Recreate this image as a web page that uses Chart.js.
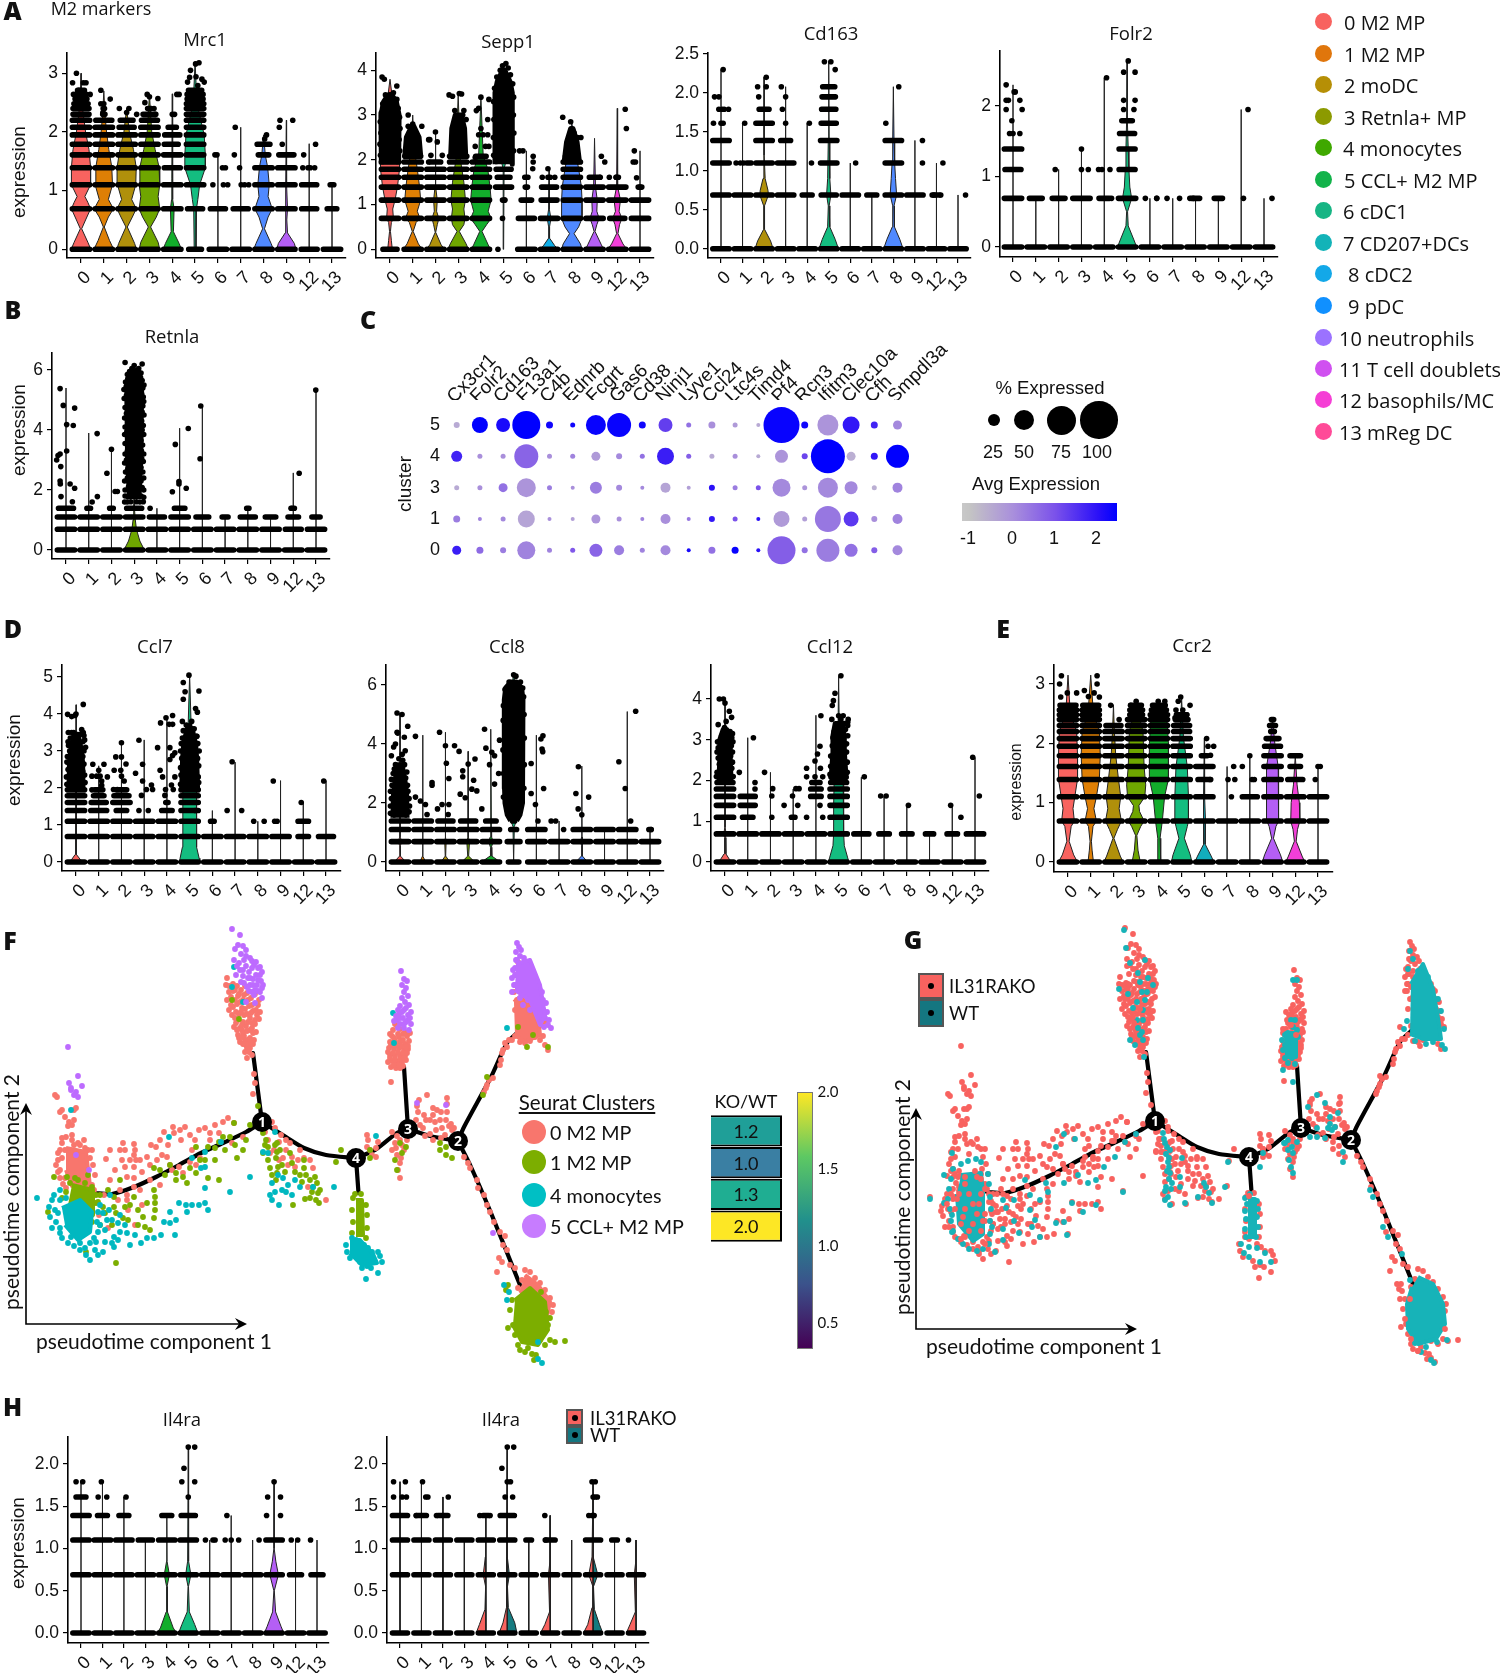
<!DOCTYPE html>
<html>
<head>
<meta charset="utf-8">
<title>M2 markers</title>
<script src="https://cdn.jsdelivr.net/npm/chart.js@4"></script>
<style>
  html, body { margin: 0; background: #fff; }
  #page { position: relative; width: 1500px; height: 1673px; overflow: hidden; }
  #page canvas { position: absolute; }
  .t { position: absolute; transform: translate(-50%, -50%); white-space: nowrap; color: #111; }
  .swatch { position: absolute; box-sizing: border-box; }
</style>
</head>
<body>
<div id="page"></div>
<script>
const clusterLabels = ['0', '1', '2', '3', '4', '5', '6', '7', '8', '9', '12', '13'];
const clusterColors = ['#f8635f', '#de7f05', '#b0900b', '#6fa600', '#12ad2b', '#14bd80', '#12adbd', '#10aee8', '#5089ff', '#b45ff5', '#f23fd8', '#ff5ca8'];
const logLevels = [0, .69, 1.1, 1.39, 1.61, 1.79, 1.95, 2.08, 2.2, 2.3, 2.4, 2.48, 2.56, 2.64, 2.71];

// violin profiles per cluster: [expression, half width], a lone number is just the whisker top
const mrc1Ticks = [0, 1, 2, 3];
const mrc1Violins = [
  [[0,.43],[.12,.3],[.35,.03],[.5,.2],[.69,.42],[.8,.3],[.9,.17],[1.1,.42],[1.4,.42],[1.7,.35],[2,.2],[2.3,.1],[2.6,.03],[3,0]],
  [[0,.43],[.15,.25],[.38,.02],[.55,.2],[.69,.42],[.85,.2],[1.1,.38],[1.4,.35],[1.7,.22],[2,.12],[2.3,.05],[2.7,0]],
  [[0,.43],[.1,.35],[.38,.03],[.55,.25],[.69,.42],[.85,.22],[1.1,.4],[1.39,.42],[1.7,.3],[2,.12],[2.4,0]],
  [[0,.45],[.12,.38],[.38,.05],[.55,.3],[.69,.45],[.9,.38],[1.1,.45],[1.4,.42],[1.7,.25],[2,.1],[2.3,.05],[2.65,0]],
  [[0,.4],[.1,.3],[.3,.05],[.69,.08],[.85,.03],[1.2,.02],[2.65,0]],
  [[0,.04],[.69,.06],[.85,.12],[1.1,.2],[1.39,.45],[1.61,.45],[1.95,.4],[2.2,.25],[2.5,.08],[3.2,0]],
  1.61, 2.08,
  [[0,.43],[.1,.33],[.35,.04],[.55,.2],[.69,.38],[.9,.2],[1.1,.25],[1.4,.18],[1.6,.08],[1.95,0]],
  [[0,.42],[.1,.35],[.28,.05],[.5,.02],[.69,.05],[1.1,.02],[2.2,0]],
  1.8, 1.1,
];
// half widths of the dot rows, aligned with logLevels
const mrc1Strips = [
  [.45,.45,.45,.45,.45,.45,.45,.45,.45,.42,.42,.38,.33,.3,.22],
  [.45,.45,.45,.45,.45,.45,.45,.45,.42,.12,.1],
  [.45,.45,.45,.45,.45,.45,.45,.4,.35],
  [.45,.45,.45,.45,.45,.45,.45,.45,.42,.35,.15],
  [.45,.45,.45,.42,.45,.33,.4,.25],
  [.35,.4,.45,.45,.45,.45,.45,.45,.45,.45,.45,.45,.42,.42,.36],
  [.45,.4],
  [.45,.4],
  [.45,.45,.45,.45,.3,.35],
  [.45,.45,.45,.45,.4],
  [.42,.4,.4,.12],
  [.45,.28,.15],
];
const mrc1Dots = [-.2,3,-.37,2.84,.22,2.84,.1,2.84,-.1,2.71,-.33,2.64,-.15,2.64,.22,2.64,.4,2.64,.2,2.56,
  .87,2.71,1.28,2.56,1,2.48,.96,2.33,.87,2.48,1.68,2.4,2.1,2.4,2,2.33,2.44,2.3,3,2.6,2.9,2.64,3.37,2.57,2.8,2.5,3.2,2.4,3.25,2.3,
  4,2.3,4.1,2.3,4.3,2.64,4.2,2.64,3.65,1.79,5.17,3.18,5.02,3.16,4.8,3.05,4.76,2.93,4.67,2.85,5.04,2.94,5.3,2.9,5.4,2.85,5.12,2.79,
  5.78,1.1,5.87,1.61,5.96,1.61,6.33,1.39,6.2,1.39,6.43,1.1,6.24,1.1,6.76,2.08,6.72,1.61,6.95,1.39,7.02,1.1,7.17,1.1,7.35,1.1,
  8.13,1.95,8.05,1.88,8.72,2.2,8.69,2.08,8.82,1.79,9.28,2.2,9.76,1.61,10.28,1.79,10.24,1.39,9.72,1.39];

const sepp1Ticks = [0, 1, 2, 3, 4];
const sepp1Violins = [
  [[0,.1],[.2,.06],[.4,.02],[.6,.06],[.69,.15],[.9,.12],[1.1,.22],[1.4,.33],[1.8,.42],[2.1,.42],[3.8,0]],
  [[0,.42],[.12,.25],[.4,.02],[.6,.15],[.69,.32],[.85,.2],[1.1,.35],[1.4,.3],[1.8,.2],[2.2,.08],[3,0]],
  [[0,.4],[.1,.25],[.38,.01],[.55,.08],[.69,.15],[.85,.05],[1.1,.08],[1.4,.02],[2.6,0]],
  [[0,.45],[.12,.35],[.4,.05],[.55,.25],[.69,.3],[.9,.25],[1.1,.32],[1.5,.25],[2,.1],[3.45,0]],
  [[0,.42],[.1,.32],[.4,.05],[.55,.25],[.69,.45],[.85,.32],[1.1,.45],[1.4,.4],[1.8,.3],[2.1,.1],[3.4,0]],
  [[0,0],[1.8,.02],[2,.12],[2.3,.4],[3.2,.3],[3.7,.1],[4.1,0]],
  2.2,
  [[0,.4],[.08,.25],[.25,.02],[.5,.02],[.69,.08],[.9,.02],[1.8,0]],
  [[0,.45],[.12,.38],[.35,.1],[.5,.3],[.69,.45],[1.1,.45],[1.4,.42],[1.8,.3],[2.3,.12],[2.85,0]],
  [[0,.4],[.1,.3],[.4,.02],[.55,.1],[.69,.2],[.85,.1],[1.1,.12],[1.4,.04],[2.48,0]],
  [[0,.42],[.12,.25],[.35,.03],[.55,.1],[.69,.2],[.85,.08],[1.1,.14],[1.4,.03],[3.15,0]],
  2.2,
];
const sepp1Strips = [
  [.38,.45,.45,.45,.45,.45,.45],
  [.45,.45,.45,.45,.45,.45,.45,.42],
  [.45,.45,.45,.45,.45,.45,.3],
  [.45,.45,.45,.45,.45,.45,.45,.45],
  [.45,.45,.45,.45,.45,.45,.45,.3],
  [0,0,.12,.42,.35,.4],
  [.45,.42,.3,.12,.14],
  [.45,.45,.42,.4,.12],
  [.45,.45,.45,.45,.45,.45,.45,.35,.3],
  [.45,.45,.45,.45,.3],
  [.45,.4,.45,.45,.12],
  [.45,.45,.45,.15],
];
const sepp1Clouds = [
  [[1.9,.45],[3,.47],[3.3,.35],[3.45,.15]], [[2.08,.42],[2.5,.35],[2.75,.12]], null, [[2.1,.4],[2.7,.35],[3,.2]], null,
  [[1.9,.45],[3.5,.45],[3.75,.35],[4,.12]], null, null, [[1.9,.42],[2.4,.3],[2.7,.12]],
];
const sepp1Dots = [-.35,3.85,-.25,3.8,.3,3.65,0,3.45,.8,3,1,2.8,1.4,2.75,.8,2.75,1.7,2.45,2,2.62,2.08,2.4,1.75,2.45,2.3,2.1,1.8,2.1,1.7,1.95,
  2.6,3.45,2.75,3.42,3.05,3.48,3.25,3.1,3.15,3.47,2.85,3.1,3.2,3,3.35,2.9,3.8,3.1,3.9,3.15,4.35,3.35,4,3.4,4.3,2.9,3.9,2.56,4.1,2.56,4.3,2.56,4,2.7,
  3.75,2.3,4.2,2.3,4.35,2.3,3.75,2.05,4.75,0,4.95,.69,5.05,1.1,5.7,2.2,5.85,2.2,6.3,2.08,6.3,1.95,6.28,1.8,6.95,1.8,6.7,1.61,7.25,1.61,
  7.6,2.95,7.95,2.85,8.1,2.6,8.25,2.5,8.4,2.5,9.3,2.08,9.45,1.95,9.65,1.61,9.25,1.61,10.35,3.13,10.4,2.7,9.95,1.61,10.75,2.2,10.7,1.95,10.8,1.95,10.85,1.6,11,1.39,
  -.42,2.1,.43,2.2,-.44,2.35,.4,2.45,-.4,2.6,.44,2.7,-.43,2.85,.42,2.95,-.38,3.05,.36,3.15,-.32,3.25,.3,3.35,-.2,3.45,.15,3.5,
  4.56,2.1,5.44,2.2,4.55,2.5,5.45,2.6,4.57,2.9,5.43,3,4.56,3.3,5.44,3.4,4.6,3.6,5.4,3.7,4.7,3.85,5.3,3.9,4.85,4,5.2,4.05,5.1,4.15,4.95,4.1];

const cd163Ticks = [0, .5, 1, 1.5, 2, 2.5];
const cd163Violins = [2.3, 1.61,
  [[0,.42],[.1,.3],[.25,.02],[.55,.02],[.69,.2],[.75,.18],[.9,.05],[1.2,.01],[2.2,0]],
  2.08, 1.61,
  [[0,.45],[.12,.3],[.28,.05],[.55,.02],[.69,.1],[.9,.05],[1.4,.02],[2.4,0]],
  1.1, .69,
  [[0,.45],[.12,.3],[.28,.05],[.55,.03],[.69,.15],[.9,.1],[1.1,.06],[1.4,.03],[2.08,0]],
  1.39, 1.1, .69,
];
const cd163Strips = [
  [.45,.45,.45,.45], [.45,.45], [.45,.45,.45,.45,.45,.3], [.45,.45,.45,.3], [.45,.3], [.45,.42,.45,.45,.42,.4,.38,.35],
  [.45,.45], [.45,.3], [.45,.45,.45,.45], [.45,.45], [.45,.2], [.45],
];
const cd163Dots = [-.35,1.61,0,1.61,.1,1.61,-.1,1.79,.05,1.79,.15,1.79,.35,1.79,-.3,1.95,-.1,1.95,.1,2.3,.7,1.1,.9,1.1,1.05,1.1,1.2,1.1,1.3,1.1,1.4,1.1,1.1,1.61,
  1.75,1.95,1.7,2.08,2.1,2.08,2.1,2.2,3,1.61,2.85,1.79,3,1.95,2.8,2.08,4.2,1.1,4.1,1.61,5.3,2.3,4.8,2.4,5.1,2.4,6.25,1.1,7.65,1.61,8.25,2.08,
  9.35,1.39,9.35,1.1,10.3,1.1,9.8,.69,9.9,.69,10.2,.69,11.35,.69];

const folr2Ticks = [0, 1, 2];
const folr2Violins = [2.3, .69, 1.1, 1.39, 2.4,
  [[0,.42],[.1,.3],[.3,.05],[.5,.02],[.69,.2],[.85,.12],[1.1,.08],[1.4,.05],[1.8,.02],[2.65,0]],
  .69, .69, .69, .69, 1.95, .69,
];
const folr2Strips = [
  [.45,.45,.42,.45], [.45,.35], [.45,.35], [.45,.45], [.45,.3], [.45,.45,.42,.42,.4,.3],
  [.45], [.45], [.45,.25], [.45,.25], [.45], [.45],
];
const folr2Dots = [-.15,1.61,0,1.61,.3,1.61,-.05,1.79,-.3,1.95,.4,1.95,-.3,2.08,-.2,2.08,.3,2.08,.05,2.2,.1,2.2,-.3,2.3,1.85,1.1,3,1.1,3.3,1.1,3,1.39,
  3.75,1.1,3.9,1.1,4.25,1.1,4.1,2.4,4.32,.69,4.85,1.95,5.3,1.95,4.85,2.08,5.35,2.08,4.85,2.48,5.35,2.48,5.05,2.64,5.8,.69,6.3,.69,6.75,.69,6.3,.69,7.3,.69,7.75,.69,
  7.9,.69,10.3,1.95,10.1,.69,11.35,.69];

const retnlaTicks = [0, 2, 4, 6];
const retnlaViolins = [5.4, 3.9, 3.4,
  [[0,.45],[.3,.25],[.69,.1],[1,.05],[1.39,.02],[6.2,0]],
  1.39, 4.06, 4.8, 1.1, 1.39, 1.1, 2.57, 5.35,
];
const retnlaStrips = [
  [.45,.45,.45,.4], [.45,.45,.45,.15], [.45,.45,.45,.15], [.45,.45,.45,.4], [.45,.45,.4], [.45,.45,.45,.3],
  [.45,.45,.35], [.45,.45,.2], [.45,.45,.4,.12], [.45,.45,.3], [.45,.42,.3,.12], [.45,.45,.25],
];
const retnlaClouds = [null, null, null, [[1.7,.28],[3,.36],[5.5,.4],[5.95,.28]]];
const retnlaDots = [-.41,3,-.26,3.2,-.12,4.82,.03,4.18,.32,4.15,.38,4.73,-.26,5.38,.03,3.3,-.23,2.78,-.26,2.3,-.25,2.2,-.22,1.78,.18,2.2,.38,2.06,.28,1.61,-.35,3.15,
  1.37,3.88,1.15,1.6,1.38,1.78,2,3.36,1.8,2.56,2.16,1.95,2.26,1.95,3.7,1.39,4.81,3.52,5.38,4.05,4.68,1.94,4.97,2.28,4.97,2.2,5.29,2.06,
  5.93,4.8,5.9,3.04,10.26,2.56,9.9,1.39,10.99,5.33,2.6,6.25,3.35,6.2,
  2.58,1.6,2.7,1.6,2.85,1.61,3.1,1.61,3.25,1.6,3.4,1.61,2.6,1.8,2.72,1.78,3.3,1.8,3.42,1.76,2.6,2,2.75,2.1,3.35,2.08,3.42,2,2.58,2.3,2.7,2.4,3.3,2.3,3.42,2.4,2.62,2.6,2.72,2.7,3.38,2.6,3.3,2.75,2.58,2.9,2.66,3,3.4,2.95,3.33,3.05,2.6,3.2,2.7,3.3,3.42,3.2,3.32,3.3,2.6,3.55,2.72,3.6,3.37,3.5,3.3,3.65,2.58,3.85,2.68,3.95,3.42,3.85,3.35,4,2.6,4.1,2.72,4.2,3.4,4.15,3.33,4.3,2.58,4.4,2.66,4.55,3.43,4.5,3.35,4.6,2.6,4.75,2.72,4.85,3.38,4.8,3.42,4.95,2.56,5.05,2.66,5.15,3.4,5.1,3.33,5.2,2.55,5.35,2.65,5.45,3.38,5.4,3.43,5.5,2.62,5.6,2.72,5.7,3.35,5.65,3.28,5.75,2.7,5.85,2.8,5.95,3.3,5.9,2.9,6.05,3.2,6.05,3,6.15,3.1,5.98,2.85,5.85];

const ccl7Ticks = [0, 1, 2, 3, 4, 5];
const ccl7Violins = [
  [[0,.35],[.06,.2],[.2,.04],[.69,.02],[4.25,0]],
  2.6, 3.2, 3.3, 3.9,
  [[0,.45],[.1,.42],[.4,.32],[.7,.3],[1.4,.3],[1.9,.3],[2.4,.1],[3,.1],[5.05,0]],
  1.39, 2.7, 1.1, 2.2, 1.61, 2.2,
];
const ccl7Strips = [
  [.45,.45,.45,.45,.45,.45,.45], [.45,.45,.45,.42,.4,.3,.25], [.45,.45,.45,.3,.45,.4,.3], [.45,.45,.45], [.45,.45,.45,.3,.12],
  [.45,.45,.45,.45,.45,.45,.45], [.45,.45,.15], [.45,.45], [.45,.45], [.45,.45], [.45,.3,.3], [.45,.4],
];
const ccl7Clouds = [[[1.95,.38],[2.7,.36],[3.1,.28],[3.45,.16]], null, null, null, null, [[1.95,.42],[2.8,.38],[3.2,.33],[3.6,.18]]];
const ccl7Dots = [-.37,3.99,-.04,3.96,0,4,.32,4.26,-.19,3.93,-.34,3.5,-.19,3.5,.25,3.58,.32,3.5,
  .74,2.64,1.23,2.64,1,2.48,.91,2.32,1.06,2.32,1.38,2.3,1.13,2.19,1.13,2.07,.7,2.32,.7,1.95,
  1.75,2.84,2,3.22,2,2.84,1.68,2.48,1.97,2.48,2.2,2.65,2,2.32,2.12,2.19,1.65,1.96,1.82,1.96,
  2.77,3.29,2.93,2.64,2.62,2.4,2.93,2.19,3.32,2.08,3.1,1.96,3.37,1.96,2.88,1.8,2.77,1.39,3.18,1.39,
  3.96,3.9,4.25,3.96,3.72,3.76,4.25,3.72,4.1,3.72,3.59,3.09,4.13,3.09,4.35,2.95,4.25,2.88,4.13,2.77,3.7,2.48,3.81,2.3,4.35,2.3,4.2,2.08,4.28,1.96,3.94,1.96,3.91,1.8,
  4.72,4.85,4.97,5.05,4.8,4.6,5.41,4.62,4.72,4.4,5.26,4.15,5.34,4.05,4.68,3.8,5.09,3.8,5,3.68,5.3,3.4,
  5.25,1.39,6.87,2.71,6.65,1.39,7.29,1.39,7.82,1.1,8.28,1.1,8.68,2.19,8.74,1.1,8.85,1.1,9.91,1.61,10.9,2.19,
  -.4,2.1,.4,2.15,-.42,2.3,.38,2.35,-.35,2.5,.3,2.45,-.4,2.7,.35,2.65,-.38,2.85,.3,2.85,-.28,3,.35,3,-.33,3.15,.42,3.1,-.35,3.25,.3,3.25,-.25,3.35,.38,3.3,.35,3.42,.2,3.45,-.1,3.5,
  4.6,2.1,5.4,2.15,4.62,2.35,5.38,2.3,4.6,2.55,5.4,2.6,4.65,2.8,5.35,2.8,4.6,3,5.42,3,4.63,3.2,5.36,3.2,4.68,3.35,5.32,3.4,4.72,3.55,5.2,3.6,4.85,3.7,5.1,3.6];

const ccl8Ticks = [0, 2, 4, 6];
const ccl8Violins = [
  [[0,.35],[.05,.2],[.2,.02],[.55,.01],[.69,.08],[.85,.01],[5.05,0]],
  [[0,.22],[.05,.1],[.2,.01],[4.3,0]],
  [[0,.3],[.05,.15],[.2,.01],[.69,.03],[.85,0],[4.4,0]],
  [[0,.38],[.05,.22],[.2,.02],[.69,.06],[.85,.01],[3.75,0]],
  [[0,.45],[.06,.3],[.2,.04],[.5,.02],[.69,.1],[.85,.03],[1.1,.02],[4.5,0]],
  [[0,0],[1.2,.03],[1.6,.2],[2,.3],[6.35,.02]],
  4.3, 1.39,
  [[0,.35],[.05,.2],[.2,.02],[.55,.01],[.69,.05],[.85,.01],[3.25,0]],
  1.1, 5.1, 1.1,
];
const ccl8Strips = [
  [.45,.45,.45,.45], [.45,.45,.45,.45], [.45,.45,.45,.4], [.45,.45,.45,.4], [.45,.45,.45,.3],
  [.3,.35,.2,.12], [.45,.45,.45], [.45,.45], [.45,.45,.45], [.45,.45,.45], [.45,.45,.45], [.45,.45,.12],
];
const ccl8Clouds = [[[1.5,.38],[2.3,.36],[2.8,.28],[3.3,.16]], null, null, null, null,
  [[1.4,.2],[1.6,.35],[2,.45],[2.5,.47],[5.5,.48],[5.9,.42],[6.1,.2]]];
const ccl8Dots = [-.13,5.05,.09,5,.34,4.6,-.13,4.4,-.38,3.6,-.1,4.37,.19,4.23,.23,3.77,-.2,4,-.28,3.9,
  .68,4.26,.68,2.2,.9,2.07,1.12,1.95,1.19,1.61,1.41,2.69,1.41,2.6,1.65,1.8,1.74,4.4,2,3.94,2.04,3.35,2.15,2.83,2.4,3.94,1.85,1.95,2.15,1.95,2.12,1.61,
  2.6,3.75,3,3.32,3.3,3.49,2.76,3.09,2.76,2.89,3.24,2.77,3.16,2.47,3.38,2.41,2.65,2.3,2.87,2.18,3.6,1.8,3.72,4.5,3.78,3.86,4.04,3.72,4.16,3.6,3.94,3.3,4.16,2.64,4.34,3,4.38,4.13,
  5.77,3.34,5.77,2.32,6.29,4.28,6.2,4.17,6.25,3.83,6.28,3.74,6.32,2.49,5.96,1.95,6.07,1.39,
  6.65,1.39,6.85,1.39,7.2,1.1,7.85,3.23,7.74,2.32,8.3,2.2,7.84,1.8,8,1.6,10.37,5.11,9.63,3.4,9.91,2.49,10.15,1.39,11.05,1.1,
  -.42,1.65,.4,1.7,-.42,1.9,.42,1.9,-.38,2.15,.4,2.15,-.42,2.4,.35,2.4,-.35,2.6,.33,2.6,-.38,2.8,.25,2.85,-.3,3,.3,3.05,-.2,3.3,.2,3.3,-.25,3.15,.12,3.45,-.05,3.5,.1,3.65,
  4.55,2.2,5.45,2.5,4.55,3,5.47,3.3,4.53,3.8,5.47,4.2,4.54,4.8,5.46,5,4.55,5.3,5.44,5.6,4.62,5.85,5.4,5.9,5.3,6.1,4.8,6.1,5,6.35,5.1,6.3];

const ccl12Ticks = [0, 1, 2, 3, 4];
const ccl12Violins = [
  [[0,.35],[.06,.2],[.2,.04],[.6,.02],[.69,.05],[.85,.01],[4,0]],
  3.05, 2.2, 1.79, 3.6,
  [[0,.45],[.1,.4],[.4,.25],[.7,.22],[1.4,.22],[1.9,.2],[2.2,.05],[4.55,0]],
  2.08, 1.61, 1.39, .69, 1.39, 2.56,
];
const ccl12Strips = [
  [.45,.45,.45,.45,.45,.45,.42], [.45,.45,.3,.4,.4], [.45,.45], [.45,.45,.15], [.45,.45,0,0,.3,.3,.25],
  [.45,.45,.45,.45,.45,.45,.42,.4], [.45,.4], [.45,.3], [.45,.3], [.45,.25], [.45,.3], [.45,.45],
];
const ccl12Clouds = [[[1.95,.34],[2.5,.3],[3,.3],[3.25,.15]], null, null, null, null, [[2.05,.4],[2.7,.32],[3.1,.32],[3.4,.22]]];
const ccl12Dots = [-.25,4,-.07,4,0,3.9,.19,3.7,.29,3.55,-.3,3.37,.63,2.2,1.25,3.05,1.32,1.95,1.32,1.79,1.74,2.2,2.1,1.8,2.06,1.62,2.06,1.1,
  2.6,1.39,2.97,1.62,3.12,1.8,3.26,1.8,3.2,1.39,4.22,3.59,4.18,2.84,4.07,2.65,3.96,2.48,3.59,2.3,4.2,2.3,3.59,2.09,3.96,2.09,3.96,1.95,4.3,2.09,3.59,1.1,4.3,1.1,4.18,1.39,
  5.1,4.57,4.84,4.14,4.77,3.96,4.72,3.84,5,3.59,5.2,3.59,4.7,3.5,5.42,3.5,5.4,3.43,6.13,2.09,6.85,1.62,7.09,1.62,8.07,1.39,9.93,1.39,10.38,1.1,10.9,2.57,11.19,1.62,
  -.38,2.1,.36,2.1,-.35,2.2,.3,2.3,-.25,2.4,.33,2.45,-.3,2.55,.25,2.6,-.35,2.7,.33,2.7,-.3,2.8,.28,2.85,-.2,2.9,.35,2.95,-.33,2.95,.3,3.05,-.15,3.1,.33,3.15,.22,3.2,-.02,3.3,.05,3.45,
  4.62,2.15,5.38,2.2,4.65,2.35,5.38,2.45,4.65,2.6,5.35,2.7,4.72,2.85,5.35,2.9,4.75,3.05,5.4,3.1,4.8,3.2,5.3,3.25,4.9,3.35,5.25,3.4,5.4,3.35,5.1,3.5];

const ccr2Ticks = [0, 1, 2, 3];
const ccr2Violins = [
  [[0,.42],[.12,.25],[.35,.05],[.6,.14],[.69,.28],[.9,.22],[1.1,.3],[1.4,.42],[1.8,.42],[2.2,.38],[2.5,.1],[3.15,0]],
  [[0,.12],[.2,.06],[.35,.03],[.6,.1],[.69,.25],[.9,.14],[1.1,.25],[1.4,.38],[1.8,.42],[2.2,.38],[2.5,.12],[3.15,0]],
  [[0,.42],[.1,.3],[.4,.02],[.55,.18],[.69,.35],[.9,.25],[1.1,.32],[1.4,.22],[1.8,.1],[2.2,.04],[2.65,0]],
  [[0,.18],[.2,.08],[.45,.03],[.6,.2],[.69,.35],[.85,.15],[.95,.12],[1.1,.38],[1.3,.42],[1.6,.35],[2.2,.3],[2.65,0]],
  [[0,.08],[.4,.05],[.69,.15],[1.1,.25],[1.4,.42],[2,.42],[2.4,.35],[2.7,0]],
  [[0,.45],[.12,.38],[.4,.12],[.6,.25],[.69,.3],[1.1,.3],[1.6,.25],[2.1,.08],[2.75,0]],
  [[0,.42],[.1,.3],[.3,.03],[.6,.04],[.69,.05],[1.1,.02],[2.08,0]],
  1.61, 1.79,
  [[0,.45],[.12,.35],[.4,.04],[.6,.15],[.69,.25],[1.1,.28],[1.6,.25],[2,.1],[2.4,0]],
  [[0,.42],[.1,.3],[.35,.04],[.55,.1],[.69,.2],[1,.18],[1.3,.08],[1.79,0]],
  1.61,
];
const ccr2Strips = [
  [.45,.45,.45,.45,.45,.45,.45,.45,.45,.45,.45,.45,.45,.42],
  [.45,.45,.45,.45,.45,.45,.45,.45,.45,.45,.45,.45,.45,.42],
  [.45,.45,.45,.45,.45,.45,.45,.45,.45,.4],
  [.45,.45,.45,.45,.45,.45,.45,.45,.45,.45,.45,.35,.35,.3],
  [.45,.45,.45,.45,.45,.45,.45,.45,.45,.45,.45,.45,.4,.35],
  [.45,.45,.45,.45,.45,.45,.45,.45,.42,.42,.35,.3],
  [.45,.45,.45,.35,.45,.2],
  [.45,.45],
  [.45,.45,.4],
  [.45,.45,.45,.45,.45,.45,.42,.35,.15,.2,.12],
  [.45,.45,.45,.4,.3,.3],
  [.45,.45,.45],
];
const ccr2Dots = [-.29,3.14,-.37,3,-.03,2.85,.38,2.85,-.32,2.78,.72,2.89,1.28,3.14,1.28,3,1.15,2.85,1.38,2.78,.9,2.79,1.88,2.64,2.25,2.4,
  2.75,2.64,3.05,2.64,3,2.71,3.97,2.71,4.26,2.71,4.96,2.78,4.85,2.71,5.37,2.64,4.71,2.43,5.22,2.48,4.75,2.56,5.05,2.56,
  6.1,2.08,6.16,1.95,6.41,1.95,6.27,1.8,6.25,1.39,7.04,1.39,7.34,1.39,7.29,1.61,7.67,1.61,7.19,1.1,8,1.79,8.1,1.39,8.2,1.39,8.75,1.61,
  11,1.61,11.1,1.61,10.88,1.39];

const il4raTicks = [0, .5, 1, 1.5, 2];
const il4raViolins = [1.79, 1.79, 1.61, 1.1,
  [[0,.45],[.06,.3],[.25,.03],[.55,.01],[.69,.12],[.85,.01],[1.39,0]],
  [[0,.45],[.1,.3],[.25,.05],[.55,.01],[.69,.12],[.85,.03],[2.2,0]],
  1.1, 1.39, 1.1,
  [[0,.45],[.08,.32],[.25,.07],[.5,.01],[.69,.2],[.85,.08],[1,.01],[1.8,0]],
  1.1, 1.1,
];
const il4raStrips = [
  [.45,.45,.45,.45,.3], [.45,.45,.45,.3], [.45,.45,.45,.3], [.45,.45,.4], [.45,.45,.45,.3], [.45,.45,.45,.4],
  [.45,.45], [.45,.45], [.45,.45], [.45,.45,.45], [.45,.35], [.45,.35],
];
const il4raDots = [-.23,1.79,.08,1.79,.95,1.79,.8,1.61,1.2,1.61,2.1,1.61,5,1.61,4.7,1.79,5.3,1.79,4.8,1.95,5,2.2,5.3,2.2,
  5.8,1.1,6.15,1.1,6.25,1.1,6.72,1.1,7,1.1,7.35,1.1,6.8,1.39,8.3,1.1,8.65,1.39,9.3,1.39,8.7,1.61,9.3,1.61,9,1.79,9.8,1.1,10.1,1.1,10.7,1.1];

const il4raSplitKo = [1.79, 1.79, 1.61, 1.1,
  [[0,.45],[.1,.3],[.28,.04],[.55,.01],[.69,.12],[.9,.02],[1.39,0]],
  [[0,.38],[.12,.2],[.3,.04],[.69,.05],[.9,.02],[2.2,0]],
  1.1,
  [[0,.45],[.1,.25],[.25,.03],[.69,.08],[.85,.01],[1.39,0]],
  1.1,
  [[0,.45],[.1,.25],[.3,.05],[.55,.01],[.69,.2],[.9,.05],[1.8,0]],
  1.1,
  [[0,.45],[.1,.28],[.25,.03],[.69,.08],[.85,.01],[1.1,0]],
];
const il4raSplitWt = [1.79, 1.79, 1.61, 1.1, 1.39,
  [[0,.45],[.12,.35],[.3,.05],[.55,.01],[.69,.1],[.9,.02],[2.2,0]],
  1.1, 1.39, 1.1,
  [[0,.45],[.1,.3],[.28,.06],[.55,.02],[.69,.22],[.9,.04],[1.8,0]],
  1.1, 1.1,
];
const il4raSplitStrips = [
  [.42,.42,.42,.42], [.42,.42,.42,.3], [.42,.42,.42,.3], [.42,.42,.42], [.42,.42,.42,.2], [.42,.42,.42,.4],
  [.42,.42,.2], [.42,.42,.3], [.42,.42], [.42,.42,.42,.12], [.42,.42,.2], [.42,.42],
];
const il4raSplitDots = [-.3,1.61,.1,1.61,.3,1.61,-.3,1.79,.25,1.79,1.05,1.79,.75,1.39,1.2,1.61,1.3,1.61,2.25,1.61,1.7,1.39,3.72,1.39,4.2,1.39,
  4.75,1.95,5,2.2,5.3,2.2,5,1.79,5.15,1.79,4.9,1.61,5.25,1.61,6.75,1.39,6.8,1.1,8.8,1.39,9,1.39,8.95,1.79,9,1.61,9.1,1.61,9.2,1.61,9.1,1.79,10.65,1.1];

// dot plot: % expressed and average expression, one row per cluster, one value per gene
const dotGenes = ['Cx3cr1', 'Folr2', 'Cd163', 'F13a1', 'C4b', 'Ednrb', 'Fcgrt', 'Gas6', 'Cd38', 'Ninj1', 'Lyve1', 'Ccl24', 'Ltc4s', 'Timd4', 'Pf4', 'Rcn3', 'Ifitm3', 'Clec10a', 'Cfh', 'Smpdl3a'];
const dotClusters = ['0', '1', '3', '4', '5'];
const pctCluster0 = [15,9,6,42,3,3,27,18,3,18,0,9,9,0,72,6,57,27,6,18];
const pctCluster1 = [9,0,3,39,0,0,15,3,0,18,0,6,3,0,36,3,66,33,6,18];
const pctCluster3 = [3,3,15,45,3,0,24,6,0,18,0,6,3,3,42,3,48,27,3,18];
const pctCluster4 = [21,3,3,60,3,3,15,6,3,39,3,3,3,0,27,6,90,15,9,57];
const pctCluster5 = [6,36,30,72,9,3,48,60,9,30,3,9,3,0,96,9,51,39,9,15];
const avgCluster0 = [1.8,.6,.3,.2,.2,.9,.7,.3,.2,.1,2.2,.5,2.4,2,.8,.5,.3,.5,.8,.1];
const avgCluster1 = [.3,.2,.1,-.4,0,-.3,-.1,0,.2,0,.4,1.9,1,2,-.2,-.3,.4,1.4,0,.2];
const avgCluster3 = [-.5,0,.5,-.1,.3,0,.3,.1,.1,-.4,-.3,2,.3,1,.1,-.1,.1,.1,-.6,.2];
const avgCluster4 = [1.7,0,0,.7,0,.2,-.2,.1,.5,1.8,.8,-.5,0,-.5,-.1,1.2,2.5,-.6,1.9,2.5];
const avgCluster5 = [-.5,2.5,2.2,2.5,2.3,2.3,2.4,2.4,2.3,1.3,.5,0,-.2,-.5,2.4,2.3,-.1,1.9,1.7,.1];
const pctByRow = [pctCluster0, pctCluster1, pctCluster3, pctCluster4, pctCluster5];
const avgByRow = [avgCluster0, avgCluster1, avgCluster3, avgCluster4, avgCluster5];

// KO/WT table
const koWtValues = [1.2, 1.0, 1.3, 2.0];
const koWtColors = ['#1f9f98', '#3a7fa3', '#1fae92', '#fde725'];

// trajectory, x then y along each component (no numeric ticks in the source)
const treeBranches = [
  [[262,1122],[253,1053]],
  [[94,1193],[112,1194],[134,1187],[156,1177],[179,1165],[201,1153],[223,1143],[246,1132],[262,1122]],
  [[262,1122],[286,1137],[304,1148],[326,1155],[356,1158]],
  [[356,1158],[358.5,1193]],
  [[356,1158],[375,1150],[397,1133],[408,1129]],
  [[408,1129],[404,1067]],
  [[408,1129],[430,1136],[458,1141]],
  [[458,1141],[464,1127],[491,1077],[507,1043],[518,1032]],
  [[458,1141],[471,1167],[491,1213],[520,1285]],
];
const treeNodes = [[262,1122,'1'],[458,1141,'2'],[408,1129,'3'],[356,1158,'4']];

const cellsCluster0 = [227,978,226,985,229,992,227,1000,231,1005,235,990,238,996,233,984,240,1002,244,995,248,1000,252,1005,256,1010,260,1012,242,1008,236,1012,232,1015,238,1020,244,1015,250,1018,255,1020,258,1005,234,1027,240,1028,246,1026,252,1028,238,1035,244,1036,250,1038,256,1032,240,1042,246,1045,250,1048,245,1052,247,1058,250,1030,243,1022,254,1040,252,1055,248,1040,242,1030,254,1074,255,1083,253,1094,
  229,986,233,991,237,986,241,990,245,986,231,997,235,1000,239,994,243,1000,247,993,251,998,255,994,259,1000,229,1010,233,1007,237,1004,241,1012,245,1009,249,1006,253,1011,257,1015,235,1018,239,1014,247,1014,251,1013,255,1024,259,1019,236,1023,242,1025,248,1022,252,1023,237,1030,243,1033,247,1031,253,1033,239,1038,245,1040,249,1044,253,1044,242,1037,247,1048,243,1044,251,1042,249,1052,
  397,1026,393,1030,392,1036,398,1034,403,1034,407,1036,410,1033,390,1042,395,1041,400,1042,405,1044,409,1041,389,1048,394,1049,399,1048,404,1050,408,1049,390,1055,395,1056,400,1055,405,1056,392,1061,397,1062,402,1062,406,1060,391,1067,396,1068,400,1068,403,1066,391,1082,
  395,1024,400,1029,405,1032,390,1034,394,1038,399,1037,403,1040,408,1046,391,1045,396,1045,401,1046,406,1047,388,1052,393,1053,398,1052,403,1053,407,1053,390,1058,395,1060,400,1059,404,1058,394,1065,399,1065,388,1062,
  509,1040,505,1043,503,1050,507,1047,512,1040,515,1036,520,1042,525,1043,530,1041,535,1037,540,1040,545,1045,548,1050,543,1036,538,1030,541,1025,545,1022,515,1010,517,1000,514,992,518,988,516,975,518,962,
  502,1053,501,1060,500,1065,489,1080,493,1078,487,1085,484,1092,486,1088,
  427,1095,419,1100,417,1106,418,1112,424,1115,426,1120,420,1125,416,1120,423,1128,430,1120,433,1108,433,1115,435,1122,437,1110,441,1112,440,1120,442,1128,447,1098,447,1104,447,1112,446,1120,449,1126,451,1124,454,1128,436,1130,430,1134,425,1136,433,1140,441,1138,445,1135,452,1130,
  392,1132,397,1136,400,1140,402,1145,396,1148,392,1150,397,1155,401,1158,400,1163,398,1170,400,1178,395,1143,404,1150,407,1140,367,1135,368,1140,367,1147,370,1150,372,1155,376,1148,378,1142,376,1157,
  464,1157,468,1163,470,1168,477,1180,478,1188,484,1195,487,1205,490,1212,494,1222,500,1232,505,1236,503,1245,507,1250,499,1258,502,1262,510,1265,515,1268,497,1272,
  525,1270,530,1272,535,1278,540,1283,545,1290,550,1298,553,1305,552,1312,548,1318,522,1280,518,1288,527,1285,533,1290,538,1296,545,1303,540,1310,
  55,1095,57,1097,62,1110,60,1112,65,1117,74,1110,76,1108,74,1120,69,1122,72,1125,68,1126,72,1135,66,1137,62,1138,72,1140,60,1150,58,1153,65,1150,74,1145,80,1145,85,1148,88,1150,62,1158,56,1165,58,1172,94,1190,92,1185,60,1170,65,1178,66,1188,
  62,1143,58,1160,60,1178,63,1184,95,1175,93,1165,90,1158,92,1150,78,1143,84,1140,
  106,1159,123,1143,134,1144,135,1150,134,1155,136,1160,134,1167,125,1167,127,1177,134,1178,147,1157,151,1145,156,1147,164,1132,173,1127,185,1127,199,1130,162,1155,167,1157,174,1133,181,1140,192,1150,210,1133,219,1133,228,1118,234,1123,223,1122,210,1140,196,1165,179,1167,172,1170,183,1173,127,1195,127,1200,134,1187,232,1143,243,1137,
  110,1150,120,1150,122,1160,125,1150,130,1160,140,1160,142,1172,150,1165,157,1160,160,1140,168,1145,180,1130,190,1135,195,1140,205,1128,215,1125,170,1165,190,1162,200,1158,150,1180,160,1185,140,1190,120,1190,110,1180,115,1170,128,1210,135,1225,142,1205,118,1200,104,1195,99,1215,108,1228,
  272,1122,275,1128,281,1135,286,1140,290,1143,279,1142,286,1150,270,1153,279,1160,292,1157,295,1167,304,1158,313,1168,326,1200,308,1187,265,1132,268,1140,274,1150,283,1158,288,1165,298,1160,300,1150,310,1160];
const cellsCluster1 = [512,1300,510,1310,513,1325,515,1335,518,1345,525,1352,532,1354,540,1340,545,1345,550,1340,555,1342,565,1341,540,1328,548,1325,550,1318,546,1312,508,1285,506,1290,520,1350,528,1348,536,1355,534,1360,508,1328,535,1295,528,1300,522,1298,541,1292,
  263,1133,266,1140,268,1147,263,1153,277,1143,277,1152,276,1158,278,1167,277,1173,276,1180,290,1153,292,1163,304,1160,304,1168,306,1175,315,1177,317,1183,313,1187,318,1193,319,1203,310,1198,305,1199,293,1205,
  265,1145,268,1160,270,1168,272,1175,280,1150,282,1165,285,1172,295,1172,300,1175,302,1182,310,1180,312,1192,316,1200,320,1190,275,1145,
  336,1162,341,1150,370,1150,370,1158,400,1143,402,1153,406,1147,395,1160,397,1170,440,1143,446,1147,446,1155,440,1150,452,1158,
  353,1198,366,1205,352,1210,367,1215,353,1222,367,1228,352,1233,366,1238,355,1194,361,1194,
  54,1177,48,1212,67,1177,78,1180,85,1183,92,1187,103,1207,105,1213,114,1197,114,1207,116,1213,125,1207,123,1218,134,1197,138,1210,143,1217,154,1190,155,1197,155,1203,155,1210,154,1218,147,1203,145,1227,150,1230,154,1168,176,1173,176,1180,183,1177,187,1183,196,1173,208,1178,219,1180,196,1147,208,1147,219,1142,230,1137,237,1158,243,1150,223,1137,246,1140,234,1123,258,1106,86,1252,116,1263,96,1203,
  100,1195,108,1190,120,1180,130,1205,128,1220,112,1225,100,1225,138,1225,160,1170,165,1175,170,1165,190,1168,200,1160,215,1160,225,1150,235,1145,215,1148,205,1160,250,1125,70,1183,66,1192,62,1198,70,1210,85,1218,92,1222,96,1195,98,1202,75,1178,88,1175,
  239,1019,232,1000,527,1047,548,1047,533,1035,518,1027,487,1077,483,1095];
const cellsCluster4 = [37,1198,54,1195,60,1190,49,1207,58,1213,60,1233,71,1237,80,1243,85,1248,98,1255,103,1252,96,1242,105,1242,112,1243,114,1237,120,1232,127,1233,118,1223,107,1220,109,1210,103,1213,114,1247,141,1243,147,1238,154,1238,161,1235,175,1235,170,1223,164,1222,170,1212,179,1203,186,1205,192,1205,199,1205,205,1203,208,1210,187,1212,176,1220,169,1137,71,1110,205,1188,205,1167,230,1192,250,1177,221,1142,205,1152,192,1158,201,1168,
  52,1200,55,1210,50,1217,56,1222,60,1228,62,1238,68,1243,74,1246,80,1250,86,1255,90,1243,94,1238,98,1232,97,1222,98,1212,60,1200,66,1198,52,1228,100,1225,105,1230,112,1220,118,1240,125,1225,95,1250,90,1260,130,1245,100,1205,110,1195,120,1215,135,1235,
  272,1183,275,1192,272,1200,279,1205,283,1178,288,1185,286,1192,295,1180,300,1187,313,1187,263,1152,268,1153,275,1132,334,1187,376,1136,278,1175,282,1190,270,1195,292,1195,
  346,1245,347,1252,352,1238,356,1240,364,1245,368,1248,372,1252,378,1252,382,1262,380,1256,360,1262,367,1266,371,1268,362,1268,350,1258,366,1279,378,1273,
  538,1342,538,1359,542,1363,504,1285,507,1300,509,1292,234,967,243,1002,232,987,393,1013,394,1043,507,1028];
const cellsCluster5 = [232,929,240,935,243,946,235,949,241,954,234,960,252,961,246,956,239,963,258,968,260,967,249,972,243,970,256,975,253,979,248,978,261,981,257,985,250,985,244,983,258,991,254,995,262,988,249,991,237,966,254,965,260,975,262,998,255,1003,246,1002,
  238,945,246,950,244,960,250,958,256,962,262,972,252,968,246,966,240,970,236,975,243,976,250,978,258,980,263,985,253,985,247,987,241,982,255,990,260,992,252,992,
  401,971,404,979,407,981,402,985,406,988,404,992,408,996,402,998,405,1002,409,1005,400,1006,404,1010,411,1012,408,1015,399,1014,403,1018,397,1020,406,1022,411,1024,394,1021,400,1024,404,1028,409,1030,398,1010,402,1012,406,1008,400,1018,408,1020,396,1016,404,1024,398,1028,410,1018,
  517,943,519,947,521,950,516,952,520,956,517,960,522,965,515,968,530,975,535,985,540,990,543,1000,540,1010,545,1018,548,1025,535,995,530,985,525,978,520,972,544,1027,515,975,515,985,523,1005,530,1010,
  513,970,512,978,514,985,520,978,527,970,533,978,538,985,542,992,546,1003,547,1012,549,1020,551,1028,543,1010,536,1005,528,1000,520,998,512,992,516,960,524,958,526,962,
  68,1047,78,1076,69,1083,82,1086,71,1088,76,1092,78,1097,74,1095,71,1090,76,1155,89,1170,446,1105,417,1103,493,1233];
// dense parts of the trajectory, outline of the packed cells
const denseCluster0 = [[[514,1002],[528,990],[538,1015],[540,1035],[525,1042],[515,1035]], [[525,1275],[538,1285],[550,1302],[546,1320],[530,1305],[520,1290]], [[66,1148],[86,1152],[90,1186],[72,1186],[66,1170]]];
const denseCluster1 = [[[515,1300],[530,1288],[545,1302],[548,1330],[538,1345],[522,1342],[513,1325]], [[356,1200],[362,1200],[363,1235],[356,1235]], [[72,1185],[93,1190],[93,1215],[78,1225],[68,1205]]];
const denseCluster4 = [[[62,1208],[80,1200],[92,1212],[90,1232],[78,1240],[65,1225]], [[350,1240],[360,1240],[373,1254],[377,1263],[362,1265],[350,1253]]];
const denseCluster5 = [[[516,964],[530,960],[540,985],[545,1015],[540,1025],[530,1000],[515,990]]];

const wtCells = [231,931,233,949,237,964,252,961,245,974,247,983,255,979,260,986,254,993,249,993,235,995,226,990,244,1003,252,1001,240,1009,250,1011,244,1021,250,1021,245,1029,249,1033,247,1036,237,1041,250,1041,242,1046,251,1058,
  400,981,404,981,402,1021,398,1021,400,1028,404,1031,395,1034,392,1036,389,1041,395,1039,400,1039,405,1038,392,1046,397,1046,402,1045,390,1051,395,1053,400,1053,392,1059,399,1059,395,1064,402,1065,390,1071,400,1083,
  424,1096,415,1108,432,1104,445,1114,437,1118,437,1125,435,1129,439,1131,424,1129,417,1138,424,1138,432,1139,450,1153,450,1163,442,1128,
  395,1141,399,1148,395,1151,400,1154,396,1161,398,1168,400,1174,392,1144,404,1143,
  270,1134,272,1144,277,1151,276,1159,276,1168,277,1174,289,1159,287,1178,273,1188,272,1201,279,1184,287,1188,277,1206,292,1204,305,1198,313,1188,316,1194,311,1184,319,1204,332,1188,230,1193,
  271,1140,274,1148,273,1155,275,1163,274,1172,276,1180,272,1192,275,1198,278,1190,
  335,1163,367,1168,370,1154,391,1144,348,1245,356,1248,364,1249,372,1254,378,1263,356,1258,367,1263,351,1254,
  352,1199,354,1205,364,1202,352,1212,365,1210,353,1220,364,1218,352,1230,365,1228,353,1238,363,1238,357,1195,
  51,1176,37,1200,51,1204,59,1154,59,1216,59,1233,102,1253,110,1230,121,1222,113,1209,137,1211,147,1201,155,1193,153,1184,139,1228,147,1238,174,1236,171,1223,163,1224,179,1204,203,1206,190,1213,185,1176,195,1184,203,1181,211,1168,222,1158,243,1135,232,1143,163,1148,171,1135,182,1140,171,1184,121,1201,137,1196,132,1181,110,1201,110,1241,99,1228,126,1234,142,1221,
  60,1170,58,1180,56,1190,55,1200,57,1210,58,1222,60,1232,65,1240,70,1245,76,1250,84,1252,90,1250,96,1245,97,1235,97,1222,98,1210,97,1198,96,1185,95,1175,68,1165,75,1162,83,1160,88,1163,
  477,1191,480,1198,490,1228,495,1238,509,1255,517,1281,
  517,952,520,960,515,970,525,972,535,978,545,1000,548,1012,551,1030,549,1046,552,1050,540,1043,533,1045,522,1042,514,1022,511,1030,
  538,1361,541,1364,522,1344,533,1348,544,1343,554,1341,528,1353];
const koCellsOnTop = [66,1172,82,1172,72,1185,88,1180,64,1200,80,1205,70,1218,90,1222,76,1232,86,1205,68,1240,92,1245,517,1300,512,1320,552,1330,518,1340,525,1352,403,1036,390,1030,398,1026,240,1018,255,1014,
  62,1175,72,1178,84,1178,92,1190,66,1195,76,1195,88,1195,62,1210,72,1210,84,1215,92,1215,68,1225,80,1225,88,1232,72,1238,58,1195,54,1205,56,1228,
  356,1197,235,985,247,1010,241,1024];
const denseWt = [[[68,1176],[88,1174],[90,1195],[90,1235],[80,1242],[66,1225],[64,1195]], [[355,1200],[362,1200],[362,1238],[355,1238]], [[518,985],[530,965],[540,990],[546,1025],[548,1040],[530,1040],[517,1035]], [[525,1278],[540,1285],[550,1305],[552,1325],[543,1340],[525,1345],[515,1330],[514,1305],[519,1288]], [[391,1034],[403,1034],[403,1058],[392,1058]]];

// ---- geometry of the figure, in page pixels ----
const violinPanels = [
  { box: [67,52,346,257], xPx: [81,332], yPx: [[0,248.3],[3,72.3]], ticks: mrc1Ticks, violins: mrc1Violins, strips: mrc1Strips, dots: mrc1Dots },
  { box: [376,52,654,257], xPx: [390,640], yPx: [[0,248.3],[4,69.3]], ticks: sepp1Ticks, violins: sepp1Violins, strips: sepp1Strips, clouds: sepp1Clouds, dots: sepp1Dots },
  { box: [708,52,971,257], xPx: [721,958], yPx: [[0,247.7],[2.5,53]], ticks: cd163Ticks, decimals: 1, violins: cd163Violins, strips: cd163Strips, dots: cd163Dots },
  { box: [1000,50,1278,256], xPx: [1013,1264], yPx: [[0,246],[2,105]], ticks: folr2Ticks, violins: folr2Violins, strips: folr2Strips, dots: folr2Dots },
  { box: [52,352,330,558], xPx: [66,316], yPx: [[0,549],[6,369]], ticks: retnlaTicks, violins: retnlaViolins, strips: retnlaStrips, clouds: retnlaClouds, dots: retnlaDots },
  { box: [62,664,341,870], xPx: [76,326], yPx: [[0,861],[5,676]], ticks: ccl7Ticks, violins: ccl7Violins, strips: ccl7Strips, clouds: ccl7Clouds, dots: ccl7Dots },
  { box: [386,664,664,870], xPx: [400,650], yPx: [[0,861],[6,684]], ticks: ccl8Ticks, violins: ccl8Violins, strips: ccl8Strips, clouds: ccl8Clouds, dots: ccl8Dots },
  { box: [711,664,989,870], xPx: [725,975], yPx: [[0,861],[4,698]], ticks: ccl12Ticks, violins: ccl12Violins, strips: ccl12Strips, clouds: ccl12Clouds, dots: ccl12Dots },
  { box: [1054,664,1333,871], xPx: [1068,1318], yPx: [[0,861],[3,683]], ticks: ccr2Ticks, violins: ccr2Violins, strips: ccr2Strips, dots: ccr2Dots },
  { box: [68,1436,329,1642], xPx: [81,317], yPx: [[0,1632],[2,1463]], ticks: il4raTicks, decimals: 1, violins: il4raViolins, strips: il4raStrips, dots: il4raDots },
  { box: [387,1436,649,1642], xPx: [400,636], yPx: [[0,1632],[2,1463]], ticks: il4raTicks, decimals: 1, splitKo: il4raSplitKo, splitWt: il4raSplitWt, strips: il4raSplitStrips, dots: il4raSplitDots },
];

const titleFont = '"Open Sans"';
const sansFont = '"Liberation Sans"';
const pageTexts = [
  ['A', 12.5, 9.5, titleFont, 25, 800], ['B', 13, 308.5, titleFont, 25, 800], ['C', 368, 319, titleFont, 25, 800], ['D', 13, 628, titleFont, 25, 800],
  ['E', 1003, 628, titleFont, 25, 800], ['F', 10, 940, titleFont, 25, 800], ['G', 913, 939, titleFont, 25, 800], ['H', 12.5, 1406, titleFont, 25, 800],
  ['M2 markers', 101, 8, titleFont, 18], ['Mrc1', 205, 38, titleFont, 18.5], ['Sepp1', 508, 40, titleFont, 18.5], ['Cd163', 831, 32, titleFont, 18.5], ['Folr2', 1131, 32, titleFont, 18.5],
  ['Retnla', 172, 335, titleFont, 18.5], ['Ccl7', 155, 645, titleFont, 18.5], ['Ccl8', 507, 645, titleFont, 18.5], ['Ccl12', 830, 645, titleFont, 18.5], ['Ccr2', 1192, 645, titleFont, 19],
  ['Il4ra', 182, 1418, titleFont, 18.5], ['Il4ra', 501, 1418, titleFont, 18.5],
  ['expression', 19, 172, sansFont, 19, 400, -90], ['expression', 19, 430, sansFont, 19, 400, -90], ['expression', 14, 760, sansFont, 19, 400, -90], ['expression', 1016, 782, sansFont, 16, 400, -90], ['expression', 18, 1543, sansFont, 19, 400, -90],
  ['cluster', 405, 484, sansFont, 19, 400, -90],
  ['% Expressed', 1050, 388, sansFont, 18.5], ['Avg Expression', 1036, 484, sansFont, 18.5],
  ['25', 993, 452, sansFont, 18], ['50', 1024, 452, sansFont, 18], ['75', 1061, 452, sansFont, 18], ['100', 1097, 452, sansFont, 18],
  ['-1', 968, 538, sansFont, 18], ['0', 1012, 538, sansFont, 18], ['1', 1054, 538, sansFont, 18], ['2', 1096, 538, sansFont, 18],
  ['KO/WT', 746, 1101, 'Lato', 18], ['2.0', 828, 1091, 'Lato', 15], ['1.5', 828, 1168, 'Lato', 15], ['1.0', 828, 1245, 'Lato', 15], ['0.5', 828, 1322, 'Lato', 15],
  ['pseudotime component 1', 154, 1340, 'Lato', 21], ['pseudotime component 2', 10, 1192, 'Lato', 21, 400, -90],
  ['pseudotime component 1', 1044, 1345, 'Lato', 21], ['pseudotime component 2', 901, 1197, 'Lato', 21, 400, -90],
];
const clusterLegend = [
  ['0 M2 MP', 1344, '#f8625f'], ['1 M2 MP', 1344, '#e0760c'], ['2 moDC', 1344, '#b68f06'], ['3 Retnla+ MP', 1344, '#8c9a00'], ['4 monocytes', 1343, '#3fa800'],
  ['5 CCL+ M2 MP', 1344, '#12b34a'], ['6 cDC1', 1343, '#17b584'], ['7 CD207+DCs', 1343, '#13b3b8'], ['8 cDC2', 1348, '#13a8e8'], ['9 pDC', 1348, '#1090ff'],
  ['10 neutrophils', 1339, '#9b72ff'], ['11 T cell doublets', 1339, '#d050f0'], ['12 basophils/MC', 1339, '#f53fd5'], ['13 mReg DC', 1339, '#ff4a98'],
];
const clusterLegendY = [21,53,84,116,147,179,210,242,273,305,337,368,399,431];
const seuratLegend = [['0 M2 MP', 1132, '#f8766d'], ['1 M2 MP', 1162, '#7cae00'], ['4 monocytes', 1195, '#00bfc4'], ['5 CCL+ M2 MP', 1226, '#c77cff']];
const expressedDots = [[25,994],[50,1024],[75,1061],[100,1099]];

const page = document.querySelector('#page');

function addText(text, x, y, family, size, weight = 400, rotate = 0) {
  const el = document.createElement('div');
  el.className = 't';
  el.textContent = text;
  el.style.cssText = `left:${x}px;top:${y}px;font-family:${family};font-size:${size}px;font-weight:${weight};transform:translate(-50%,-50%) rotate(${rotate}deg)`;
  page.appendChild(el);
  return el;
}

function addBox(x, y, w, h, css) {
  const el = document.createElement('div');
  el.className = 'swatch';
  el.style.cssText = `left:${x}px;top:${y}px;width:${w}px;height:${h}px;${css}`;
  page.appendChild(el);
  return el;
}

function addCanvas(x, y, w, h) {
  const canvas = document.createElement('canvas');
  canvas.width = w;
  canvas.height = h;
  canvas.style.cssText = `left:${x}px;top:${y}px;width:${w}px;height:${h}px`;
  page.appendChild(canvas);
  return canvas;
}

const toPairs = flat => {
  const pairs = [];
  for (let i = 0; i < flat.length; i += 2) pairs.push({ x: flat[i], y: flat[i + 1] });
  return pairs;
};

const baseOptions = {
  responsive: false,
  animation: false,
  events: [],
  plugins: { legend: { display: false }, tooltip: { enabled: false } },
};

function violinShape(pos, profile, side) {
  const shape = typeof profile === 'number' ? [[0, 0], [profile, 0]] : profile;
  const left = shape.map(([y, w]) => ({ x: pos - w, y }));
  const right = shape.map(([y, w]) => ({ x: pos + w, y })).reverse();
  const centre = shape.map(([y]) => ({ x: pos, y }));
  if (side === 'left') return [...left, ...centre.reverse()];
  if (side === 'right') return [...centre, ...right];
  return [...left, ...right];
}

function shapeDataset(data, color, outline, width, order) {
  return {
    data, showLine: true, fill: 'shape', backgroundColor: color, borderColor: outline, borderWidth: width,
    borderJoinStyle: 'round', pointRadius: 0, tension: 0, clip: false, order,
  };
}

// the dot radius eats into the reach of a row, so the row ends stop a bit short of it
const dotReach = .07;

function drawViolinPanel(panel) {
  const [left, top, right, bottom] = panel.box;
  const padLeft = 50, padTop = 12, padRight = 12, padBottom = 45;
  const step = (panel.xPx[1] - panel.xPx[0]) / 11;
  const [[v0, p0], [v1, p1]] = panel.yPx;
  const unit = (p0 - p1) / (v1 - v0);
  const datasets = [];

  (panel.violins || []).forEach((profile, i) => {
    datasets.push(shapeDataset(violinShape(i, profile), clusterColors[i], '#222', 1, 4));
  });
  (panel.splitKo || []).forEach((profile, i) => {
    datasets.push(shapeDataset(violinShape(i, profile, 'left'), '#f8635f', '#222', 1, 4));
  });
  (panel.splitWt || []).forEach((profile, i) => {
    datasets.push(shapeDataset(violinShape(i, profile, 'right'), '#157b80', '#222', 1, 4));
  });
  (panel.clouds || []).forEach((profile, i) => {
    if (profile) datasets.push(shapeDataset(violinShape(i, profile.map(([y, w]) => [y, w - dotReach])), '#000', '#000', 5, 2));
  });

  const stripPoints = [];
  panel.strips.forEach((row, i) => {
    row.forEach((w, j) => {
      const reach = w - dotReach;
      if (w > 0) stripPoints.push({ x: i - reach, y: logLevels[j] }, { x: i + reach, y: logLevels[j] }, { x: null, y: null });
    });
  });
  datasets.push({ data: stripPoints, showLine: true, borderColor: '#000', borderWidth: 5.6, borderCapStyle: 'round', pointRadius: 0, clip: false, order: 2 });
  datasets.push({ data: toPairs(panel.dots), showLine: false, backgroundColor: '#000', pointRadius: 2.8, pointBorderWidth: 0, clip: false, order: 1 });

  const axis = {
    border: { color: '#000', width: 1.6 },
    grid: { drawOnChartArea: false, drawTicks: true, tickLength: 5, color: '#000', lineWidth: 1.2 },
  };
  const canvas = addCanvas(left - padLeft, top - padTop + 1, right - left + padLeft + padRight, bottom - top + padTop + padBottom);
  new Chart(canvas, {
    type: 'scatter',
    data: { datasets },
    options: {
      ...baseOptions,
      layout: { autoPadding: false, padding: { top: padTop, right: padRight } },
      scales: {
        x: {
          ...axis, type: 'linear',
          min: (left - panel.xPx[0]) / step,
          max: (right - panel.xPx[0]) / step,
          afterBuildTicks: s => { s.ticks = clusterLabels.map((_, i) => ({ value: i })); },
          afterFit: s => { s.height = padBottom; s.paddingLeft = 0; s.paddingRight = 0; },
          ticks: { callback: v => clusterLabels[v], autoSkip: false, minRotation: 45, maxRotation: 45, labelOffset: 7, padding: 4, color: '#111', font: { family: 'Liberation Sans', size: 18 } },
        },
        y: {
          ...axis, type: 'linear',
          min: v0 - (bottom - p0) / unit,
          max: v0 + (p0 - top) / unit,
          afterBuildTicks: s => { s.ticks = panel.ticks.map(value => ({ value })); },
          afterFit: s => { s.width = padLeft; s.paddingTop = 0; s.paddingBottom = 0; },
          ticks: { callback: v => v.toFixed(panel.decimals || 0), autoSkip: false, padding: 4, color: '#111', font: { family: 'Liberation Sans', size: 17.5 } },
        },
      },
    },
  });
}

violinPanels.forEach(drawViolinPanel);

// ---- dot plot ----
const avgStops = [[-1.15, [204,204,204]], [0, [169,143,219]], [1, [123,82,234]], [2, [42,16,248]], [2.5, [0,0,255]]];
function avgColor(e) {
  for (let i = 1; i < avgStops.length; i++) {
    if (e <= avgStops[i][0]) {
      const [a, ca] = avgStops[i - 1];
      const [b, cb] = avgStops[i];
      const t = (e - a) / (b - a);
      return `rgb(${ca.map((c, k) => Math.round(c + (cb[k] - c) * t)).join(',')})`;
    }
  }
  return 'rgb(0,0,255)';
}
const pctRadius = pct => 2 + pct / 6;

const dotPoints = [];
pctByRow.forEach((row, r) => row.forEach((pct, g) => dotPoints.push({ x: g, y: r, pct, avg: avgByRow[r][g] })));

new Chart(addCanvas(400, 320, 600, 255), {
  type: 'scatter',
  data: {
    datasets: [{
      data: dotPoints, clip: false, pointBorderWidth: 0,
      pointRadius: c => pctRadius(c.raw.pct),
      backgroundColor: c => avgColor(c.raw.avg),
    }],
  },
  options: {
    ...baseOptions,
    layout: { autoPadding: false, padding: { right: 75 } },
    scales: {
      x: {
        type: 'linear', position: 'top', min: (445 - 456.7) / 23.2, max: (925 - 456.7) / 23.2,
        border: { display: false }, grid: { display: false },
        afterBuildTicks: s => { s.ticks = dotGenes.map((_, i) => ({ value: i })); },
        afterFit: s => { s.height = 80; s.paddingLeft = 0; s.paddingRight = 0; },
        ticks: { callback: v => dotGenes[v], autoSkip: false, minRotation: 45, maxRotation: 45, labelOffset: 10, padding: -16, color: '#111', font: { family: 'Liberation Sans', size: 19 } },
      },
      y: {
        type: 'linear', min: -(575 - 550.3) / 31.3, max: 4 + (425 - 400) / 31.3,
        border: { display: false }, grid: { display: false },
        afterBuildTicks: s => { s.ticks = dotClusters.map((_, i) => ({ value: i })); },
        afterFit: s => { s.width = 45; s.paddingTop = 0; s.paddingBottom = 0; },
        ticks: { callback: v => dotClusters[v], autoSkip: false, padding: -3, color: '#111', font: { family: 'Liberation Sans', size: 18 } },
      },
    },
  },
});

expressedDots.forEach(([pct, x]) => {
  const r = pctRadius(pct);
  addBox(x - r, 420 - r, 2 * r, 2 * r, 'background:#000;border-radius:50%');
});
addBox(961.5, 503, 155, 18, `background:linear-gradient(90deg,#c8c8c8 0%,#c4c4c4 5%,#a98fdc 33%,#7b52ea 60%,#2a10f8 88%,#0000ff 100%)`);

// ---- trajectories ----
const nodeNumbers = {
  id: 'nodeNumbers',
  afterDatasetsDraw(chart) {
    const { ctx, scales } = chart;
    ctx.save();
    ctx.fillStyle = '#fff';
    ctx.font = '700 14px "Open Sans"';
    ctx.textAlign = 'center';
    ctx.textBaseline = 'middle';
    treeNodes.forEach(([x, y, label]) => ctx.fillText(label, scales.x.getPixelForValue(x), scales.y.getPixelForValue(y) + 1));
    ctx.restore();
  },
};

function cellDataset(cells, color, order) {
  return { data: toPairs(cells), showLine: false, backgroundColor: color, pointRadius: 2.9, pointBorderWidth: 0, clip: false, order };
}

function treeDatasets() {
  const sets = treeBranches.map(branch => ({
    data: branch.map(([x, y]) => ({ x, y })), showLine: true, borderColor: '#000', borderWidth: 4.2, borderCapStyle: 'round', tension: .25, pointRadius: 0, clip: false, order: 9,
  }));
  sets.push({ data: treeNodes.map(([x, y]) => ({ x, y })), showLine: false, backgroundColor: '#000', pointRadius: 10, pointBorderWidth: 0, clip: false, order: 0 });
  return sets;
}

function treeChart(x, y, datasets) {
  new Chart(addCanvas(x, y, 607, 470), {
    type: 'scatter',
    data: { datasets: [...datasets, ...treeDatasets()] },
    options: {
      ...baseOptions,
      layout: { autoPadding: false },
      scales: {
        x: { type: 'linear', display: false, min: 0, max: 607 },
        y: { type: 'linear', display: false, min: 920, max: 1390, reverse: true },
      },
    },
    plugins: [nodeNumbers],
  });
}

const denseSets = (regions, color, order) => regions.map(r => shapeDataset(r.map(([x, y]) => ({ x, y })), color, color, 4, order));

treeChart(0, 920, [
  ...denseSets(denseCluster0, '#f8766d', 8), cellDataset(cellsCluster0, '#f8766d', 8),
  ...denseSets(denseCluster1, '#7cae00', 7), cellDataset(cellsCluster1, '#7cae00', 7),
  ...denseSets(denseCluster4, '#00b8c0', 6), cellDataset(cellsCluster4, '#00b8c0', 6),
  ...denseSets(denseCluster5, '#bd6bff', 5), cellDataset(cellsCluster5, '#bd6bff', 5),
]);

const allCells = [...cellsCluster0, ...cellsCluster1, ...cellsCluster4, ...cellsCluster5];
treeChart(893, 919, [
  cellDataset(allCells, '#f8625f', 8),
  ...denseSets(denseWt, '#17b3b8', 7), cellDataset(wtCells, '#17b3b8', 7),
  cellDataset(koCellsOnTop, '#f8625f', 6),
]);

// axis arrows of both trajectory panels
const arrows = document.createElementNS('http://www.w3.org/2000/svg', 'svg');
arrows.setAttribute('width', 1500);
arrows.setAttribute('height', 1673);
arrows.style.cssText = 'position:absolute;left:0;top:0';
[[26,1103,1324,247], [916,1108,1329,1137]].forEach(([x, yTop, yBottom, xRight]) => {
  arrows.innerHTML += `<path d="M${x} ${yTop + 6}V${yBottom}H${xRight - 6}" fill="none" stroke="#000" stroke-width="1.6"/>` +
    `<path d="M${x - 6} ${yTop + 12}L${x} ${yTop}L${x + 6} ${yTop + 12}L${x} ${yTop + 8}Z"/>` +
    `<path d="M${xRight - 12} ${yBottom - 6}L${xRight} ${yBottom}L${xRight - 12} ${yBottom + 6}L${xRight - 8} ${yBottom}Z"/>`;
});
page.appendChild(arrows);

// ---- KO/WT heat table ----
new Chart(addCanvas(711, 1115, 71, 127), {
  type: 'bar',
  data: {
    labels: koWtValues.map(String),
    datasets: [{ data: koWtValues.map(() => 1), backgroundColor: koWtColors, borderColor: '#000', borderWidth: 2, barPercentage: .98, categoryPercentage: 1 }],
  },
  options: {
    ...baseOptions,
    indexAxis: 'y',
    scales: { x: { display: false, min: 0, max: 1 }, y: { display: false } },
  },
});
koWtValues.forEach((v, i) => addText(v.toFixed(1), 746, 1131 + i * 31.5, 'Lato', 18));
addBox(796.5, 1092, 16, 257, 'background:linear-gradient(0deg,#440154,#3b528b 25%,#21908c 50%,#5dc863 75%,#fde725);border:1px solid #777');

// ---- legends ----
clusterLegend.forEach(([label, x, color], i) => {
  addBox(1323 - 8.5, clusterLegendY[i] - 8.5, 17, 17, `background:${color};border-radius:50%`);
  const el = addText(label, x, clusterLegendY[i] + 1, '"Open Sans"', 20);
  el.style.transform = 'translate(0,-50%)';
});
seuratLegend.forEach(([label, y, color]) => {
  addBox(534 - 12, y - 12, 24, 24, `background:${color};border-radius:50%`);
  const el = addText(label, 550, y, 'Lato', 19.7);
  el.style.transform = 'translate(0,-50%)';
});
const seuratTitle = addText('Seurat Clusters', 587, 1102, 'Lato', 20.5);
seuratTitle.style.textDecoration = 'underline';

[[918, 973, 26, 26, 'IL31RAKO', 949, 18.5], [918, 999, 26, 28, 'WT', 949, 18.5], [566, 1409, 17, 17, 'IL31RAKO', 590, 18.5], [566, 1426, 17, 18, 'WT', 590, 18.5]].forEach(([x, y, w, h, label, tx, size], i) => {
  addBox(x, y, w, h, `background:${i % 2 ? '#147680' : '#f8625f'};border:2px solid #555`);
  addBox(x + w / 2 - 3, y + h / 2 - 3, 6, 6, 'background:#000;border-radius:50%');
  const el = addText(label, tx, y + h / 2, 'Lato', size);
  el.style.transform = 'translate(0,-50%)';
});

pageTexts.forEach(t => addText(...t));
</script>
</body>
</html>
